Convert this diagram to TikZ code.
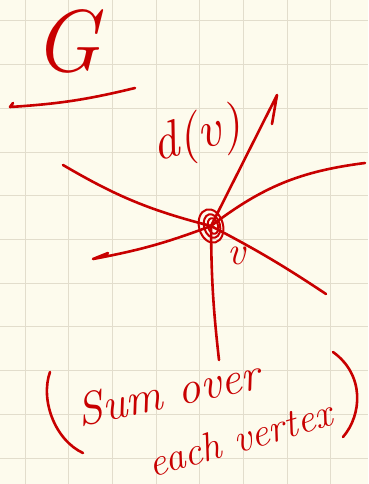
\documentclass[tikz,border=0pt]{standalone}
\usepackage{fontspec}
\usepackage{tikz}
\definecolor{pen}{RGB}{200,0,0}
\definecolor{paper}{RGB}{253,251,237}
\definecolor{gridline}{RGB}{226,221,204}

\begin{document}
\begin{tikzpicture}[x=1pt,y=-1pt,
    ink/.style={draw=pen,line width=2.6pt,line cap=round,line join=round},
    hand/.style={text=pen,inner sep=0pt},
    sheet/.style={draw=gridline,line width=1pt}]
  \fill[paper] (0,0) rectangle (368,484);
  \useasboundingbox (0,0) rectangle (368,484);
  \foreach \i in {0,...,7} \draw[sheet] (25+43.7*\i,0) -- (25+43.7*\i,484);
  \foreach \j in {0,...,10} \draw[sheet] (0,21+43.7*\j) -- (368,21+43.7*\j);

  % graph G, underlined
  \node[hand,font=\fontsize{88}{88}\selectfont\itshape] (G) at (67,41) {G};
  \coordinate (ul) at (10,107);
  \coordinate (ur) at (135,88);
  \draw[ink] (13,103) -- (ul) to[bend right=5] (ur);

  % vertex v and its edges
  \coordinate (v) at (211,226);
  \coordinate (e1) at (277,95);
  \coordinate (e2) at (365,163);
  \coordinate (e3) at (326,294);
  \coordinate (e4) at (219,360);
  \coordinate (e5) at (93,259);
  \coordinate (e6) at (63,165);
  \draw[ink] (v) -- (e1) -- (272,124);
  \draw[ink] (v) to[bend left=15] (e2);
  \draw[ink] (v) to[bend left=3] (e3);
  \draw[ink] (v) to[bend right=3] (e4);
  \draw[ink] (v) to[bend left=5] (e5) -- (108,253);
  \draw[ink] (e6) to[bend right=8] (v);
  \foreach \r/\s/\dx in {12/17/0,8/12/1,5/8/2}
    \draw[ink,line width=2pt] ([xshift=\dx pt]v) ellipse [x radius=\r, y radius=\s, rotate=15];

  % labels
  \node[hand,font=\fontsize{52}{52}\selectfont\itshape,rotate=15] (deg) at (197,137) {d(v)};
  \node[hand,font=\fontsize{40}{40}\selectfont\itshape] (vlab) at (236,256) {v};

  % note below
  \node[hand,font=\fontsize{46}{46}\selectfont\itshape,rotate=12] (sum) at (168,392) {Sum over};
  \node[hand,font=\fontsize{40}{40}\selectfont\itshape,rotate=16] (each) at (240,438) {each vertex};
  \draw[ink] (50,372) .. controls (40,400) and (55,440) .. (83,453);
  \draw[ink] (333,352) .. controls (365,375) and (362,415) .. (343,437);
\end{tikzpicture}
\end{document}
